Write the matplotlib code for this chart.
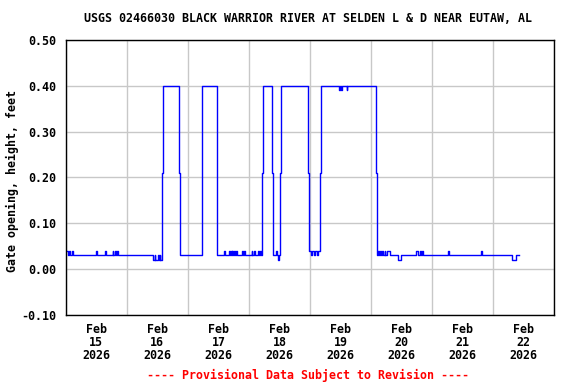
import matplotlib
matplotlib.use("Agg")
import matplotlib.pyplot as plt
from matplotlib.ticker import FuncFormatter
import datetime as dt

# Gate-opening record: step breakpoints (hours after 2026-02-15 00:00) and values (ft)
hours = [0.0, 0.9, 1.2, 1.6, 2.4, 2.7,
         12.1, 12.4, 15.6, 15.9,
         18.4, 18.7, 19.3, 19.6, 20.2, 20.5,
         34.2, 35.0, 35.2, 36.2, 36.5, 37.0, 37.2, 37.7,
         38.0, 38.3, 44.7, 45.1, 53.5, 59.6,
         62.2, 62.5, 64.3, 64.6, 64.9, 65.2, 65.5, 65.8, 66.3, 66.6, 66.9, 67.2,
         69.4, 69.7, 70.2, 70.5, 73.1, 73.4, 74.1, 74.4, 75.7, 76.0, 76.3, 76.6,
         77.0, 77.4, 80.9, 81.5, 82.6, 82.9, 83.5, 83.8, 84.3, 84.8,
         95.4, 95.8, 96.4, 96.7, 97.5, 97.8, 98.7, 99.0, 99.8, 100.2,
         107.5, 107.8, 108.1, 108.4, 110.4, 110.7,
         121.8, 122.2, 122.5, 122.8, 123.0, 123.5, 123.9, 124.2, 124.6, 125.3, 125.6, 126.2, 127.3,
         130.5, 131.8, 137.8, 138.3, 139.1, 139.5, 139.9, 140.3,
         150.1, 150.5, 163.0, 163.5, 175.5, 177.0, 178.2]
values = [0.04, 0.03, 0.04, 0.03, 0.04, 0.03,
          0.04, 0.03, 0.04, 0.03,
          0.04, 0.03, 0.04, 0.03, 0.04, 0.03,
          0.02, 0.03, 0.02, 0.03, 0.02, 0.03, 0.02, 0.03,
          0.21, 0.40, 0.21, 0.03, 0.40, 0.03,
          0.04, 0.03, 0.04, 0.03, 0.04, 0.03, 0.04, 0.03, 0.04, 0.03, 0.04, 0.03,
          0.04, 0.03, 0.04, 0.03, 0.04, 0.03, 0.04, 0.03, 0.04, 0.03, 0.04, 0.03,
          0.21, 0.40, 0.21, 0.03, 0.04, 0.03, 0.02, 0.03, 0.21, 0.40,
          0.21, 0.04, 0.03, 0.04, 0.03, 0.04, 0.03, 0.04, 0.21, 0.40,
          0.39, 0.40, 0.39, 0.40, 0.39, 0.40,
          0.21, 0.04, 0.03, 0.04, 0.03, 0.04, 0.03, 0.04, 0.03, 0.04, 0.03, 0.04, 0.03,
          0.02, 0.03, 0.04, 0.03, 0.04, 0.03, 0.04, 0.03,
          0.04, 0.03, 0.04, 0.03, 0.02, 0.03, 0.03]

start = dt.datetime(2026, 2, 15)
days = [dt.datetime(2026, 2, d) for d in range(15, 24)]
y_ticks = [-0.10, 0.00, 0.10, 0.20, 0.30, 0.40, 0.50]

title = "USGS 02466030 BLACK WARRIOR RIVER AT SELDEN L & D NEAR EUTAW, AL"
ylabel = "Gate opening, height, feet"
footer = "---- Provisional Data Subject to Revision ----"

font = "DejaVu Sans Mono"
fs = 8.4

times = [start + dt.timedelta(hours=h) for h in hours]

fig = plt.figure(figsize=(5.76, 3.84), dpi=100)
ax = fig.add_axes([65.7/576, 1 - 315/384, (554.3-65.7)/576, (315-40)/384])

ax.plot(times, values, drawstyle="steps-post", color="#0000ff", linewidth=1.0)

ax.set_xlim(days[0], days[-1])
ax.set_ylim(-0.10, 0.50)

# grid at midnight (minor), labels at noon (major)
ax.set_xticks(days, minor=True)
noon = [d + dt.timedelta(hours=12) for d in days[:-1]]
ax.set_xticks(noon)
ax.set_xticklabels([f"{d:%b}\n{d.day}\n{d.year}" for d in days[:-1]],
                   fontfamily=font, fontweight="bold", fontsize=fs, linespacing=1.0)
ax.set_yticks(y_ticks)
ax.yaxis.set_major_formatter(FuncFormatter(lambda v, p: f"{v:.2f}".replace("\u2212", "-")))
for lab in ax.get_yticklabels():
    lab.set_fontfamily(font)
    lab.set_fontweight("bold")
    lab.set_fontsize(fs)

ax.grid(True, which="minor", axis="x", color="#c8c8c8", linewidth=1.0)
ax.grid(True, which="major", axis="y", color="#c8c8c8", linewidth=1.0)
ax.set_axisbelow(True)
ax.tick_params(axis="both", which="both", length=0)
ax.tick_params(axis="x", pad=6)
ax.tick_params(axis="y", pad=7)
for s in ax.spines.values():
    s.set_color("black")
    s.set_linewidth(1.0)

fig.text(308/576, 1 - 19/384, title, ha="center", va="center",
         fontfamily=font, fontweight="bold", fontsize=fs)
fig.text(12/576, 1 - 181/384, ylabel, ha="center", va="center", rotation=90,
         fontfamily=font, fontweight="bold", fontsize=fs)
fig.text(308/576, 1 - 375/384, footer, ha="center", va="center", color="#ff0000",
         fontfamily=font, fontweight="bold", fontsize=fs)

fig.savefig("out.png", dpi=100)
